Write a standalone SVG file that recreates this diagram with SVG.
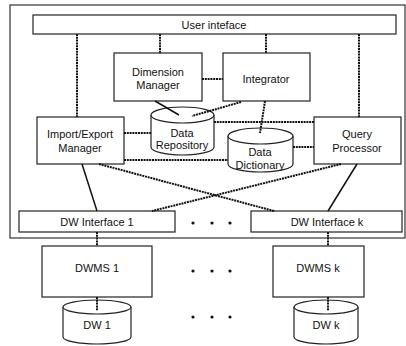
<svg xmlns="http://www.w3.org/2000/svg" width="406" height="346" viewBox="0 0 406 346">
  <style>
    .box { fill: #fff; stroke: #222; stroke-width: 1.2; }
    .frame { fill: none; stroke: #333; stroke-width: 1.2; }
    .lbl { font-family: "Liberation Sans", Arial, sans-serif; font-size: 11px; fill: #111; text-anchor: middle; }
    .dash { fill: none; stroke: #111; stroke-width: 2; stroke-dasharray: 2 0.8; }
    .solid { fill: none; stroke: #111; stroke-width: 1.5; }
    .dot { fill: #111; }
  </style>

  <!-- outer system frame -->
  <rect class="frame" x="10" y="5" width="395" height="233"/>

  <g id="user-interface">
    <rect class="box" x="33" y="15" width="363" height="19"/>
    <text class="lbl" x="214" y="29">User inteface</text>
  </g>

  <g id="dimension-manager">
    <rect class="box" x="114" y="53" width="88" height="48"/>
    <text class="lbl" x="158" y="76">Dimension</text>
    <text class="lbl" x="158" y="89">Manager</text>
  </g>

  <g id="integrator">
    <rect class="box" x="223" y="53" width="87" height="48"/>
    <text class="lbl" x="266" y="83">Integrator</text>
  </g>

  <g id="import-export-manager">
    <rect class="box" x="37" y="117" width="87" height="47"/>
    <text class="lbl" x="80" y="138">Import/Export</text>
    <text class="lbl" x="80" y="152">Manager</text>
  </g>

  <g id="query-processor">
    <rect class="box" x="314" y="117" width="87" height="47"/>
    <text class="lbl" x="357" y="138">Query</text>
    <text class="lbl" x="357" y="152">Processor</text>
  </g>

  <g id="data-repository">
    <path class="box" d="M151,115 V147 A31.5,8 0 0 0 214,147 V115"/>
    <ellipse class="box" cx="182.5" cy="115" rx="31.5" ry="8"/>
    <text class="lbl" x="182" y="137">Data</text>
    <text class="lbl" x="182" y="149">Repository</text>
  </g>

  <g id="data-dictionary">
    <path class="box" d="M228,136 V164 A32.5,8 0 0 0 293,164 V136"/>
    <ellipse class="box" cx="260.5" cy="136" rx="32.5" ry="8"/>
    <text class="lbl" x="260" y="156">Data</text>
    <text class="lbl" x="260" y="169">Dictionary</text>
  </g>

  <g id="dw-interface-1">
    <rect class="box" x="19" y="211" width="156" height="21"/>
    <text class="lbl" x="97" y="226">DW Interface 1</text>
  </g>

  <g id="dw-interface-k">
    <rect class="box" x="251" y="211" width="151" height="21"/>
    <text class="lbl" x="327" y="226">DW Interface k</text>
  </g>

  <g id="dwms-1">
    <rect class="box" x="42" y="246" width="110" height="51"/>
    <text class="lbl" x="97" y="272">DWMS 1</text>
  </g>

  <g id="dwms-k">
    <rect class="box" x="273" y="246" width="91" height="51"/>
    <text class="lbl" x="318" y="272">DWMS k</text>
  </g>

  <g id="dw-1">
    <path class="box" d="M63,307 V337 A34,7 0 0 0 131,337 V307"/>
    <ellipse class="box" cx="97" cy="307" rx="34" ry="7"/>
    <text class="lbl" x="97" y="329">DW 1</text>
  </g>

  <g id="dw-k">
    <path class="box" d="M294,307 V337 A32,7 0 0 0 358,337 V307"/>
    <ellipse class="box" cx="326" cy="307" rx="32" ry="7"/>
    <text class="lbl" x="326" y="329">DW k</text>
  </g>

  <!-- ellipsis markers between parallel warehouse stacks -->
  <g id="ellipses">
    <circle class="dot" cx="193" cy="223" r="1.6"/>
    <circle class="dot" cx="212" cy="223" r="1.6"/>
    <circle class="dot" cx="230" cy="223" r="1.6"/>
    <circle class="dot" cx="193" cy="271" r="1.6"/>
    <circle class="dot" cx="212" cy="271" r="1.6"/>
    <circle class="dot" cx="230" cy="271" r="1.6"/>
    <circle class="dot" cx="193" cy="317" r="1.6"/>
    <circle class="dot" cx="212" cy="317" r="1.6"/>
    <circle class="dot" cx="230" cy="317" r="1.6"/>
  </g>

  <g id="connectors">
    <!-- user interface down to components -->
    <line class="dash" x1="77" y1="34" x2="77" y2="117"/>
    <line class="dash" x1="160" y1="34" x2="160" y2="53"/>
    <line class="dash" x1="266" y1="34" x2="266" y2="53"/>
    <line class="dash" x1="359" y1="34" x2="359" y2="117"/>
    <!-- dimension manager / integrator -->
    <line class="dash" x1="202" y1="79" x2="223" y2="79"/>
    <line class="solid" x1="155" y1="101" x2="179" y2="115"/>
    <line class="dash" x1="241" y1="102" x2="192" y2="116"/>
    <line class="dash" x1="265" y1="101" x2="260" y2="133"/>
    <!-- repository / dictionary links -->
    <line class="dash" x1="124" y1="133" x2="151" y2="133"/>
    <line class="dash" x1="124" y1="160" x2="228" y2="160"/>
    <line class="dash" x1="214" y1="122" x2="314" y2="122"/>
    <line class="dash" x1="293" y1="147" x2="314" y2="147"/>
    <!-- crossing links to warehouse interfaces -->
    <line class="solid" x1="82" y1="164" x2="97" y2="211"/>
    <line class="dash" x1="99" y1="164" x2="274" y2="211"/>
    <line class="dash" x1="341" y1="164" x2="152" y2="211"/>
    <line class="solid" x1="357" y1="164" x2="328" y2="211"/>
    <!-- interface to DWMS to DW -->
    <line class="dash" x1="97" y1="232" x2="97" y2="246"/>
    <line class="dash" x1="328" y1="232" x2="328" y2="246"/>
    <line class="dash" x1="97" y1="297" x2="97" y2="311"/>
    <line class="dash" x1="328" y1="297" x2="328" y2="311"/>
  </g>
</svg>
